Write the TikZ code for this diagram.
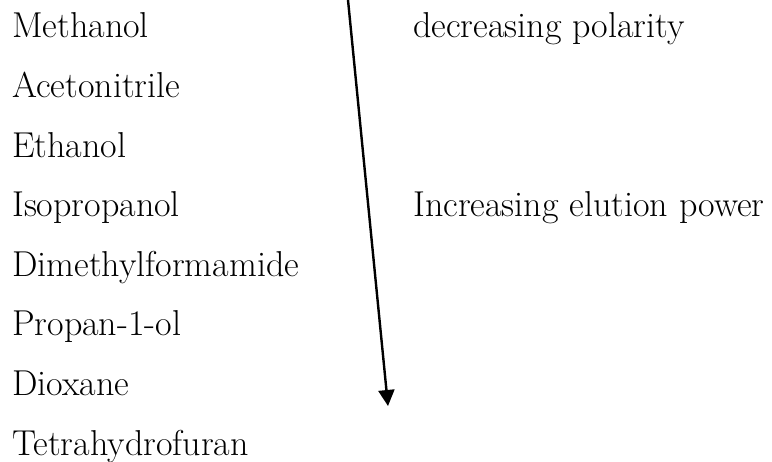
\documentclass[tikz,border=0pt]{standalone}
\usetikzlibrary{arrows.meta}
\begin{document}
\begin{tikzpicture}[x=1pt,y=-1pt,
  lbl/.style={anchor=base west,inner sep=0pt,font=\fontsize{36}{43}\selectfont},
  arr/.style={line width=2.4pt,-{Triangle[length=16pt,width=16pt]}}]
\useasboundingbox (0,0) rectangle (772,462);
\node[lbl] (m) at (12,38) {Methanol};
\node[lbl] (a) at (12,97.6) {Acetonitrile};
\node[lbl] (e) at (12,157.2) {Ethanol};
\node[lbl] (i) at (12,216.8) {Isopropanol};
\node[lbl] (d) at (12,276.4) {Dimethylformamide};
\node[lbl] (p) at (12,336) {Propan-1-ol};
\node[lbl] (x) at (12,395.6) {Dioxane};
\node[lbl] (t) at (12,455.2) {Tetrahydrofuran};
\node[lbl] (dp) at (413,38) {decreasing polarity};
\node[lbl] (ie) at (413,216.8) {Increasing elution power};
\coordinate (top) at (348,0);
\coordinate (tip) at (388,406);
\draw[arr] (top) -- (tip);
\end{tikzpicture}
\end{document}
